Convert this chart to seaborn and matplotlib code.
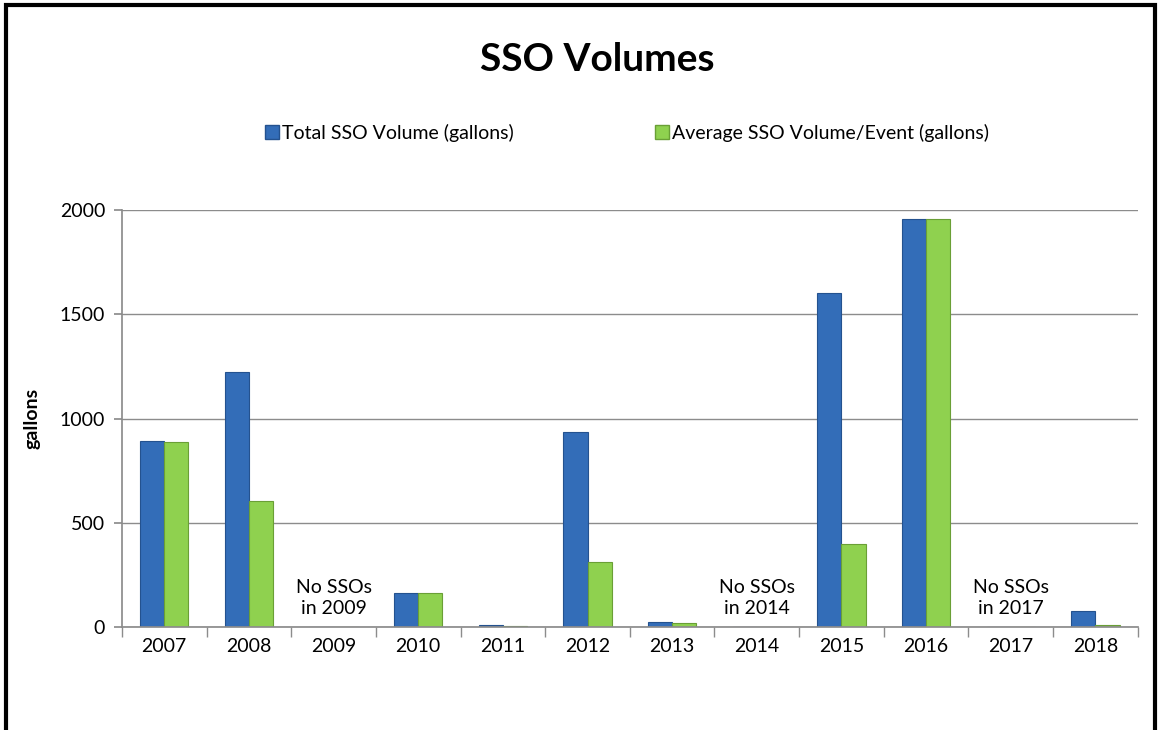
import pandas as pd
import numpy as np
import matplotlib.pyplot as plt
import matplotlib.patches as mpatches
import seaborn as sns

years = ['2007', '2008', '2009', '2010', '2011', '2012',
         '2013', '2014', '2015', '2016', '2017', '2018']
total_volume = [895, 1222, 0, 165, 12, 935, 25, 0, 1602, 1960, 0, 78]
avg_volume = [890, 605, 0, 165, 3, 310, 20, 0, 398, 1960, 0, 8]
series_names = ['Total SSO Volume (gallons)', 'Average SSO Volume/Event (gallons)']
no_sso_years = ['2009', '2014', '2017']

BLUE = '#336DB8'
GREEN = '#8FD14F'

df = pd.DataFrame({
    'Year': years * 2,
    'gallons': total_volume + avg_volume,
    'Series': [series_names[0]] * len(years) + [series_names[1]] * len(years),
})

sns.set_theme(style='white')
plt.rcParams['font.family'] = ['Lato', 'DejaVu Sans']
plt.rcParams['text.color'] = 'black'
plt.rcParams['xtick.color'] = 'black'
plt.rcParams['ytick.color'] = 'black'
plt.rcParams['axes.labelcolor'] = 'black'

fig = plt.figure(figsize=(11.61, 7.30), dpi=100)
ax = fig.add_axes([0.105, 0.141, 0.875, 0.571])

sns.barplot(data=df, x='Year', y='gallons', hue='Series', order=years,
            palette=[BLUE, GREEN], width=0.57, saturation=1, ax=ax, legend=False)

for bar, color in zip(ax.patches, [BLUE] * len(years) + [GREEN] * len(years)):
    bar.set_edgecolor('#24528F' if color == BLUE else '#6A9F36')
    bar.set_linewidth(0.8)

ax.set_ylim(0, 2000)
ax.set_yticks([0, 500, 1000, 1500, 2000])
ax.yaxis.grid(True, color='#8C8C8C', linewidth=1)
ax.set_axisbelow(True)
for side in ['top', 'right']:
    ax.spines[side].set_visible(False)
ax.spines['left'].set_color('#8C8C8C')
ax.spines['bottom'].set_color('#8C8C8C')

ax.set_xlim(-0.5, len(years) - 0.5)
ax.set_xticks(np.arange(-0.5, len(years), 1.0), minor=True)
ax.tick_params(axis='x', which='minor', length=7, color='#8C8C8C', width=1,
               direction='out', bottom=True)
ax.tick_params(axis='x', which='major', length=0, labelsize=14, pad=8)
ax.tick_params(axis='y', length=6, color='#8C8C8C', direction='out', left=True,
               labelsize=14, pad=6)
ax.set_xlabel('')
ax.set_ylabel('gallons', fontsize=14, fontweight='bold', labelpad=14)

for y in no_sso_years:
    ax.text(years.index(y), 140, 'No SSOs\nin ' + y, ha='center', va='center',
            fontsize=14, linespacing=1.25)

fig.text(0.514, 0.918, 'SSO Volumes', ha='center', va='center',
         fontsize=28, fontweight='bold')

handles = [mpatches.Patch(facecolor=BLUE, edgecolor='#24528F'),
           mpatches.Patch(facecolor=GREEN, edgecolor='#6A9F36')]
fig.legend(handles, series_names, loc='center', bbox_to_anchor=(0.54, 0.818),
           ncol=2, frameon=False, fontsize=14, handlelength=0.7,
           handleheight=0.7, handletextpad=0.15, columnspacing=7.3)

border = mpatches.Rectangle((0.005, -0.02), 0.99, 1.013, transform=fig.transFigure,
                            fill=False, edgecolor='black', linewidth=3)
fig.patches.append(border)

fig.savefig('out.png', dpi=100)
